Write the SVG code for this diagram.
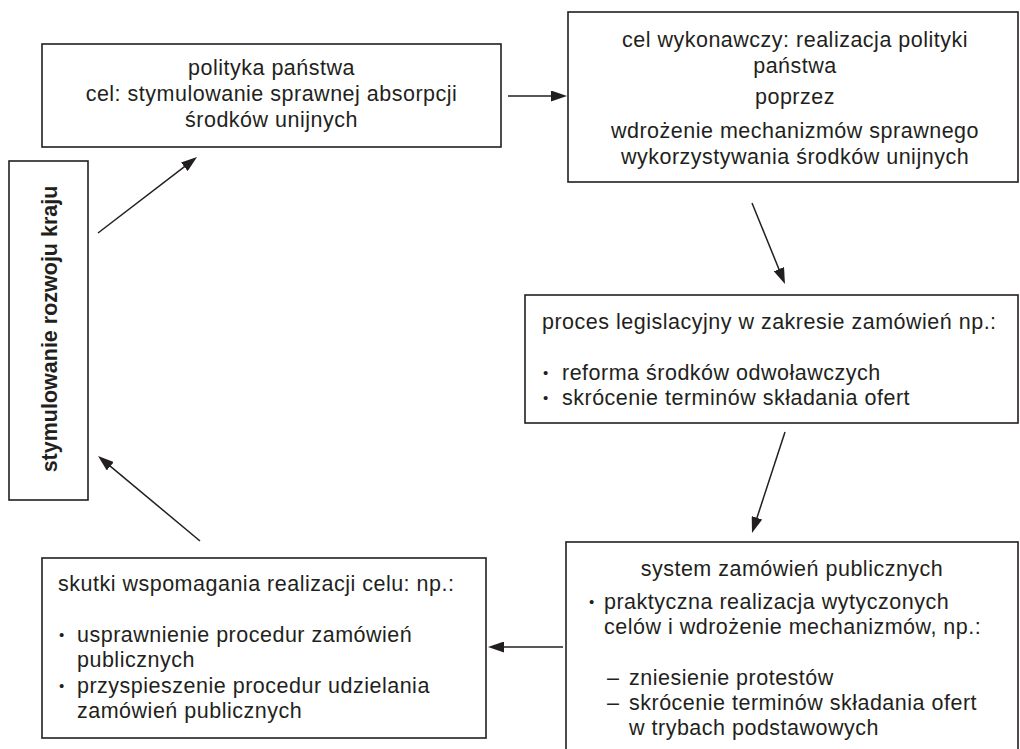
<svg xmlns="http://www.w3.org/2000/svg" width="1020" height="749" viewBox="0 0 1020 749">
<style>
.box{fill:#fff;stroke:#231f20;stroke-width:1.6}
.t{font-family:"Liberation Sans",Arial,sans-serif;font-size:21.5px;letter-spacing:0.5px;fill:#231f20}
.c{text-anchor:middle}
.b{font-weight:bold;letter-spacing:0}
.bul{font-size:15px;letter-spacing:0}
.con line{stroke:#231f20;stroke-width:1.5;marker-end:url(#ah)}
</style>
<defs>
<marker id="ah" viewBox="0 0 16 11" refX="6" refY="5.5" markerWidth="16" markerHeight="11" markerUnits="userSpaceOnUse" orient="auto">
<path d="M0,0 L16,5.5 L0,11 z" fill="#231f20"/>
</marker>
</defs>
<rect width="1020" height="749" fill="#fff"/>
<g id="polityka">
<rect class="box" x="42" y="44" width="459" height="103"/>
<text class="t c"><tspan x="271.5" y="75">polityka państwa</tspan><tspan x="271.5" y="101">cel: stymulowanie sprawnej absorpcji</tspan><tspan x="271.5" y="127">środków unijnych</tspan></text>
</g>
<g id="cel">
<rect class="box" x="568" y="12" width="450" height="170"/>
<text class="t c"><tspan x="795" y="47">cel wykonawczy: realizacja polityki</tspan><tspan x="795" y="73">państwa</tspan></text>
<text class="t c" x="795" y="104">poprzez</text>
<text class="t c"><tspan x="795" y="138">wdrożenie mechanizmów sprawnego</tspan><tspan x="795" y="164">wykorzystywania środków unijnych</tspan></text>
</g>
<g id="stymulowanie">
<rect class="box" x="9" y="161" width="79" height="339"/>
<text class="t c b" transform="translate(57,329) rotate(-90)">stymulowanie rozwoju kraju</text>
</g>
<g id="legislacja">
<rect class="box" x="525" y="295" width="493" height="128"/>
<text class="t" x="542" y="329">proces legislacyjny w zakresie zamówień np.:</text>
<text class="t bul"><tspan x="543" y="378">•</tspan><tspan x="543" y="403">•</tspan></text>
<text class="t"><tspan x="562" y="380">reforma środków odwoławczych</tspan><tspan x="562" y="405">skrócenie terminów składania ofert</tspan></text>
</g>
<g id="system">
<rect class="box" x="566" y="542" width="452" height="230"/>
<text class="t c" x="792" y="576">system zamówień publicznych</text>
<text class="t bul" x="589" y="607">•</text>
<text class="t"><tspan x="604" y="609">praktyczna realizacja wytyczonych</tspan><tspan x="604" y="634">celów i wdrożenie mechanizmów, np.:</tspan></text>
<text class="t"><tspan x="607" y="685">–</tspan><tspan x="607" y="710">–</tspan></text>
<text class="t"><tspan x="629" y="685">zniesienie protestów</tspan><tspan x="629" y="710">skrócenie terminów składania ofert</tspan><tspan x="629" y="735">w trybach podstawowych</tspan></text>
</g>
<g id="skutki">
<rect class="box" x="42" y="558" width="444" height="180"/>
<text class="t" x="58" y="591">skutki wspomagania realizacji celu: np.:</text>
<text class="t bul"><tspan x="59" y="640">•</tspan><tspan x="59" y="691">•</tspan></text>
<text class="t"><tspan x="77" y="642">usprawnienie procedur zamówień</tspan><tspan x="77" y="667">publicznych</tspan><tspan x="77" y="693">przyspieszenie procedur udzielania</tspan><tspan x="77" y="718">zamówień publicznych</tspan></text>
</g>
<g id="connectors" class="con">
<line x1="508" y1="96" x2="557" y2="96"/>
<line x1="752" y1="203" x2="781.2" y2="274.7"/>
<line x1="785" y1="432" x2="755.1" y2="523.5"/>
<line x1="563" y1="647" x2="498" y2="647"/>
<line x1="200" y1="541" x2="105.7" y2="462.4"/>
<line x1="98" y1="233" x2="189.1" y2="163.1"/>
</g>
</svg>
